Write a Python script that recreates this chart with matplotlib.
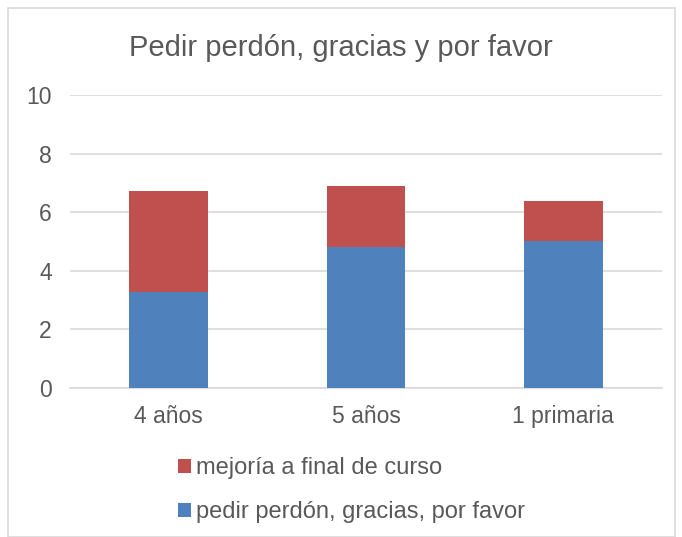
import matplotlib.pyplot as plt
from matplotlib.patches import Rectangle

# Data
categories = ['4 años', '5 años', '1 primaria']
pedir = [3.26, 4.80, 5.02]
mejoria = [3.47, 2.08, 1.37]
series_labels = ['pedir perdón, gracias, por favor', 'mejoría a final de curso']

plt.rcParams['font.family'] = ['Liberation Sans', 'DejaVu Sans']
gray = '#595959'

fig = plt.figure(figsize=(6.82, 5.37), dpi=100)
ax = fig.add_axes([70 / 682, 1 - 388 / 537, 592 / 682, 293 / 537])

x = range(len(categories))
b1 = ax.bar(x, pedir, width=0.4, color='#4F81BD', zorder=3)
b2 = ax.bar(x, mejoria, bottom=pedir, width=0.4, color='#C0504D', zorder=3)

ax.set_xlim(-0.5, 2.5)
ax.set_ylim(0, 10)
ax.set_yticks([0, 2, 4, 6, 8, 10])
ax.set_xticks(list(x))
ax.set_xticklabels(categories)
ax.yaxis.grid(True, color='#D9D9D9', linewidth=1.2, zorder=0)
for s in ['top', 'right', 'left']:
    ax.spines[s].set_visible(False)
ax.spines['bottom'].set_color('#D9D9D9')
ax.spines['bottom'].set_linewidth(1.2)
ax.tick_params(axis='both', length=0, labelsize=16.5, colors=gray)
ax.tick_params(axis='x', pad=12.5)
ax.tick_params(axis='y', pad=13)

fig.text(0.5, 1 - 48 / 537, 'Pedir perdón, gracias y por favor', ha='center', va='center',
         fontsize=21, color=gray)

# legend: red on top, blue below
fig.legend([b2, b1], [series_labels[1], series_labels[0]], loc='upper left',
           bbox_to_anchor=(178 / 682, 1 - 457 / 537), frameon=False, fontsize=17,
           labelcolor=gray, handlelength=0.55, handleheight=0.55, handletextpad=0.2,
           labelspacing=0.95, borderaxespad=0, borderpad=0)

fig.patches.append(Rectangle((8 / 682, 0), 667 / 682, 1 - 8 / 537, transform=fig.transFigure,
                             fill=False, edgecolor='#D9D9D9', linewidth=1.2))

fig.savefig('out.png', dpi=100)
